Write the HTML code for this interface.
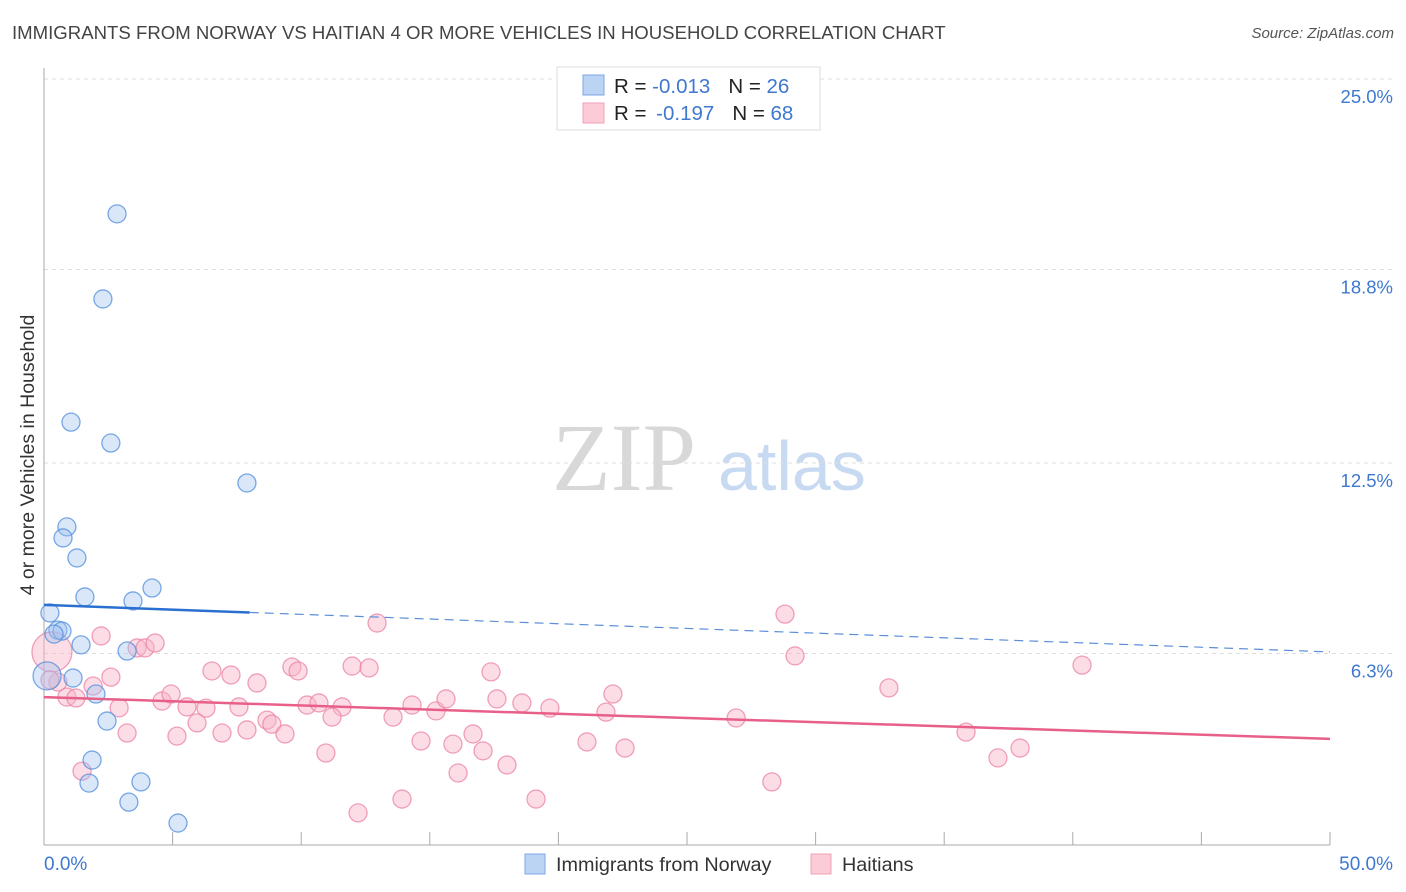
<!DOCTYPE html>
<html><head><meta charset="utf-8"><style>
body{margin:0;background:#fff;font-family:"Liberation Sans",sans-serif;}
#wrap{position:relative;width:1406px;height:892px;overflow:hidden;}
.t{position:absolute;white-space:nowrap;}
</style></head><body>
<div id="wrap">
<div class="t" style="left:12px;top:22px;font-size:18.6px;color:#444;">IMMIGRANTS FROM NORWAY VS HAITIAN 4 OR MORE VEHICLES IN HOUSEHOLD CORRELATION CHART</div>
<div class="t" style="right:12px;top:25px;font-size:15px;color:#555;font-style:italic;">Source: ZipAtlas.com</div>
<svg id="svg" width="1406" height="892" style="position:absolute;left:0;top:0">
<text x="552" y="490" font-family="Liberation Serif,serif" font-size="96" fill="#d8d8d8">ZIP</text>
<text x="718" y="490" font-family="Liberation Sans,sans-serif" font-size="70" fill="#c8daf2">atlas</text>
<g id="grid"></g><g id="pts"></g><g id="lines"></g>
<text x="34" y="455" transform="rotate(-90 34 455)" text-anchor="middle" font-size="19.5" fill="#333">4 or more Vehicles in Household</text>
<text x="44" y="870" font-size="19" fill="#3f78cf">0.0%</text>
<text x="1393" y="870" text-anchor="end" font-size="19" fill="#3f78cf">50.0%</text>
<rect x="557" y="67" width="263" height="63" fill="#fff" stroke="#ddd"/>
<rect x="583" y="75" width="21" height="20" fill="#bcd4f4" stroke="#7da7e4"/>
<rect x="583" y="103" width="21" height="20" fill="#fbcbd8" stroke="#f0a0b8"/>
<text x="614" y="93" font-size="20.5" fill="#222">R = <tspan fill="#3f78cf">-0.013</tspan><tspan dx="18">N = </tspan><tspan fill="#3f78cf">26</tspan></text>
<text x="614" y="120" font-size="20.5" fill="#222">R = <tspan dx="4" fill="#3f78cf">-0.197</tspan><tspan dx="18">N = </tspan><tspan fill="#3f78cf">68</tspan></text>
<rect x="525" y="854" width="20" height="20" fill="#bcd4f4" stroke="#7da7e4"/>
<text x="556" y="871" font-size="19.8" fill="#333">Immigrants from Norway</text>
<rect x="811" y="854" width="20" height="20" fill="#fbcbd8" stroke="#f0a0b8"/>
<text x="842" y="871" font-size="19.8" fill="#333">Haitians</text>
</svg>
</div>
<script>
const yTicks=[6.3,12.5,18.8,25.0];
const yTickLabels=["6.3%","12.5%","18.8%","25.0%"];
const xTicks=[5,10,15,20,25,30,35,40,45,50];
const norwayX=[2.84,2.29,1.05,2.60,7.89,0.89,0.74,1.28,4.20,1.59,3.46,0.23,0.54,0.70,0.39,1.44,3.23,2.02,1.13,0.12,2.45,1.87,1.75,3.77,3.30,5.21];
const norwayY=[20.61,17.84,13.83,13.15,11.85,10.42,10.06,9.41,8.43,8.14,8.01,7.62,7.06,7.03,6.93,6.58,6.38,4.98,5.50,5.57,4.10,2.83,2.08,2.12,1.46,0.78];
const norwayR=[9,9,9,9,9,9,9,9,9,9,9,9,9,9,9,9,9,9,9,14,9,9,9,9,9,9];
const haitiX=[2.22,3.62,3.93,4.32,0.31,0.54,2.60,1.91,0.89,1.24,2.92,6.53,7.27,8.28,9.64,9.88,11.98,12.64,4.59,4.94,5.56,6.30,7.58,10.23,10.69,11.59,11.20,8.67,8.86,9.37,7.89,6.92,5.95,5.17,3.23,10.96,1.48,12.21,12.95,13.57,14.31,15.24,15.63,17.38,17.61,18.58,19.67,21.85,22.12,14.66,15.90,16.68,17.07,18.00,16.10,21.11,22.59,13.92,19.13,28.81,29.20,26.91,28.30,32.85,35.85,37.09,37.95,40.36,0.23];
const haitiY=[6.87,6.48,6.48,6.64,6.35,5.37,5.53,5.24,4.88,4.85,4.53,5.73,5.60,5.34,5.86,5.73,5.89,5.83,4.75,4.98,4.56,4.52,4.56,4.62,4.69,4.56,4.23,4.13,4.00,3.68,3.81,3.71,4.04,3.61,3.71,3.06,2.47,1.11,7.29,4.23,4.62,4.43,4.82,5.70,4.82,4.69,4.52,4.39,4.98,3.45,3.35,3.68,3.13,2.67,2.41,3.42,3.22,1.56,1.56,7.58,6.22,4.20,2.12,5.18,3.74,2.90,3.22,5.92,5.44];
const norwayTrend=[7.88,6.35];
const haitiTrend=[4.88,3.52];
const NS="http://www.w3.org/2000/svg";
const xs=v=>44+v*25.72, ys=v=>847-v*30.72;
function mk(t,a,p){const e=document.createElementNS(NS,t);for(const k in a)e.setAttribute(k,a[k]);p.appendChild(e);return e;}
const grid=document.getElementById('grid');
let e;
yTicks.forEach((v,i)=>{
 let l=mk('line',{x1:44,y1:ys(v),x2:1393,y2:ys(v),stroke:'#ddd','stroke-dasharray':'4,4'},grid);
 
 let t=mk('text',{x:1393,y:ys(v)+24,'text-anchor':'end','font-size':18.5,fill:'#3f78cf'},grid);
 t.textContent=yTickLabels[i];
 
});
e=mk('line',{x1:44,y1:68,x2:44,y2:845,stroke:'#aaa'},grid);

e=mk('line',{x1:44,y1:845,x2:1330,y2:845,stroke:'#aaa'},grid);

xTicks.forEach(v=>{let l=mk('line',{x1:xs(v),y1:832,x2:xs(v),y2:845,stroke:'#aaa'},grid);
 });
const pts=document.getElementById('pts');
haitiX.forEach((x,i)=>{let c=mk('circle',{cx:xs(x),cy:ys(haitiY[i]),r:i==4?20:9,fill:'rgba(248,180,200,0.45)',stroke:'rgba(235,130,165,0.75)','stroke-width':1.3},pts);
 });
norwayX.forEach((x,i)=>{let c=mk('circle',{cx:xs(x),cy:ys(norwayY[i]),r:norwayR[i],fill:'rgba(160,195,240,0.4)',stroke:'rgba(80,140,220,0.75)','stroke-width':1.3},pts);
 });
const lines=document.getElementById('lines');
const bAt=x=>norwayTrend[0]+(norwayTrend[1]-norwayTrend[0])*x/50;
e=mk('line',{x1:xs(0),y1:ys(bAt(0)),x2:xs(8),y2:ys(bAt(8)),stroke:'#2a70d0','stroke-width':2.5},lines);

e=mk('line',{x1:xs(8),y1:ys(bAt(8)),x2:xs(50),y2:ys(bAt(50)),stroke:'#5a8fd8','stroke-width':1.2,'stroke-dasharray':'9,6'},lines);

e=mk('line',{x1:xs(0),y1:ys(haitiTrend[0]),x2:xs(50),y2:ys(haitiTrend[1]),stroke:'#e8608a','stroke-width':2.5},lines);

</script>
</body></html>
